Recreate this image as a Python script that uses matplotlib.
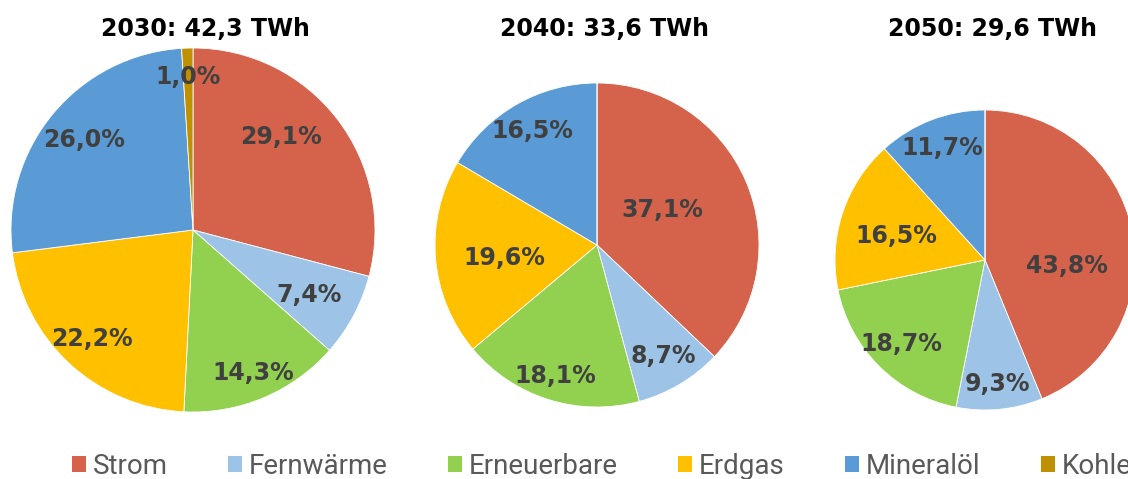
import numpy as np
import matplotlib.pyplot as plt
from matplotlib.patches import Patch

# Data
categories = ['Strom', 'Fernwärme', 'Erneuerbare', 'Erdgas', 'Mineralöl', 'Kohle']
years = ['2030', '2040', '2050']
totals = ['42,3', '33,6', '29,6']
shares_2030 = [29.1, 7.4, 14.3, 22.2, 26.0, 1.0]
shares_2040 = [37.1, 8.7, 18.1, 19.6, 16.5, 0.0]
shares_2050 = [43.8, 9.3, 18.7, 16.5, 11.7, 0.0]
shares = [shares_2030, shares_2040, shares_2050]

colors = ['#D5634B', '#9DC3E6', '#92D050', '#FFC000', '#5B9BD5', '#BF9000']

# layout (pixels, y from bottom)
centers = [(193, 249), (597, 234), (985, 219)]
radii = [182, 162, 150]
title_x = [205, 604, 993]
# label distance (fraction of radius) and angle shift per slice, like excel's "best fit"
label_dist = [[0.70, 0.73, 0.85, 0.82, 0.78, 0.84],
              [0.46, 0.80, 0.85, 0.58, 0.81, 0.8],
              [0.55, 0.83, 0.79, 0.61, 0.80, 0.8]]
label_shift = [[9, -1, 0, 0, 0, 0],
               [5, 0, 0, 3, 0, 0],
               [-15, 0, 0, 3, 0, 0]]

fig = plt.figure(figsize=(11.28, 4.79), dpi=100)
ax = fig.add_axes([0, 0, 1, 1])

for i, vals in enumerate(shares):
    wedges, _ = ax.pie(vals, colors=colors, startangle=90, counterclock=False,
                       center=centers[i], radius=radii[i],
                       wedgeprops=dict(edgecolor='white', linewidth=0.6))
    for j, w in enumerate(wedges):
        if vals[j] <= 0:
            continue
        ang = np.deg2rad((w.theta1 + w.theta2) / 2 + label_shift[i][j])
        d = radii[i] * label_dist[i][j]
        ax.text(centers[i][0] + d * np.cos(ang), centers[i][1] + d * np.sin(ang),
                f'{vals[j]:.1f}%'.replace('.', ','), ha='center', va='center',
                fontsize=17, fontweight='bold', color='#404040', family='DejaVu Sans')
    ax.text(title_x[i], 450, f'{years[i]}: {totals[i]} TWh', ha='center', va='center',
            fontsize=17, fontweight='bold', color='black', family='DejaVu Sans')

ax.set_xlim(0, 1128)
ax.set_ylim(0, 479)
ax.set_aspect('equal')
ax.axis('off')

handles = [Patch(facecolor=c, edgecolor='none') for c in colors]
leg = fig.legend(handles, categories, loc='center left', bbox_to_anchor=(47 / 1128, 13 / 479),
                 ncol=6, frameon=False, handlelength=0.5, handleheight=0.5,
                 handletextpad=0.25, columnspacing=2.17,
                 prop=dict(family='Roboto', size=20))
for t in leg.get_texts():
    t.set_color('#595959')

fig.savefig('out.png', dpi=100)
